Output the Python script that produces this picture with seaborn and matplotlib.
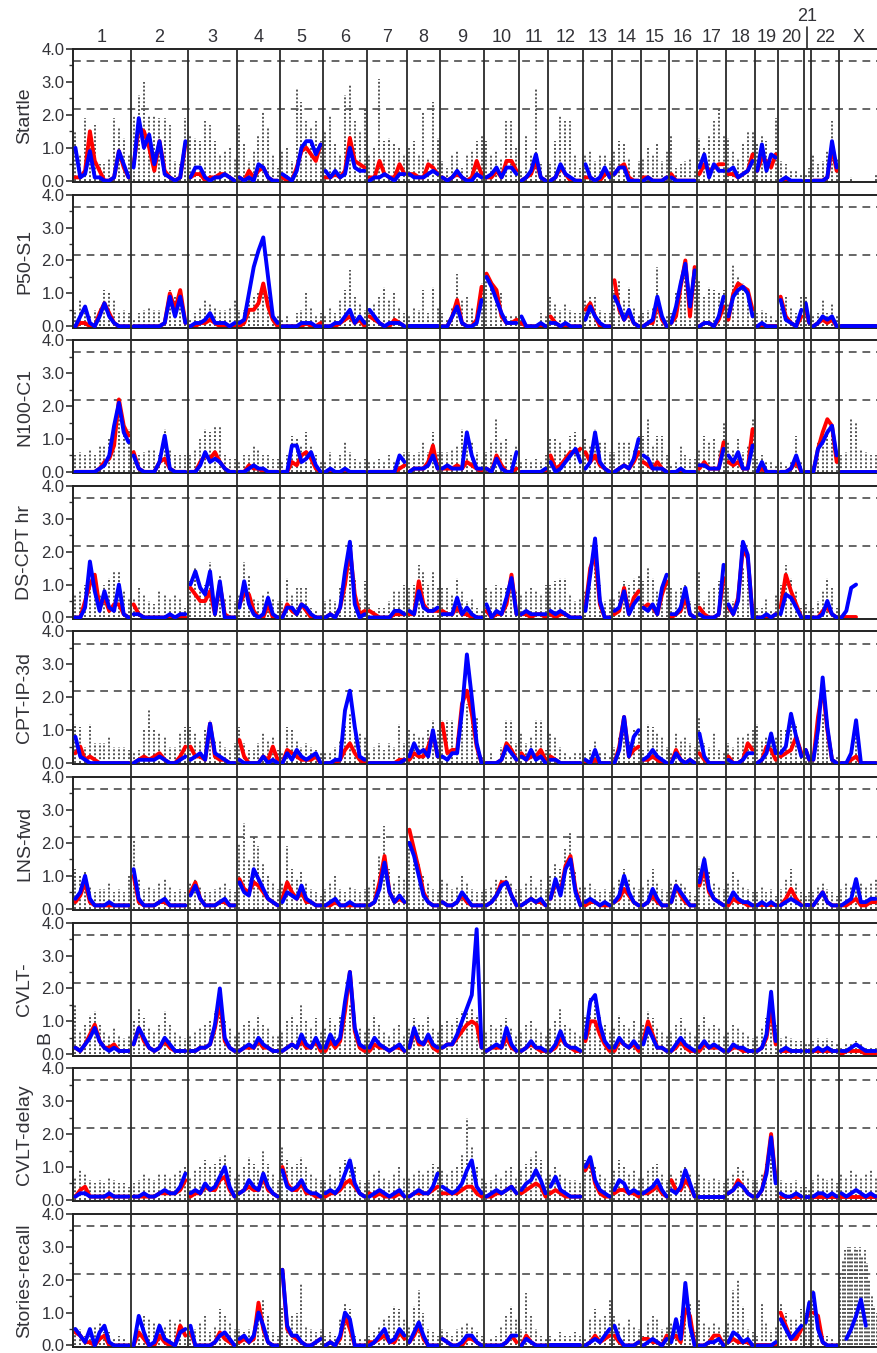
import numpy as np
import pandas as pd
import matplotlib
matplotlib.use('Agg')
import matplotlib.pyplot as plt
from matplotlib.ticker import MultipleLocator, FormatStrFormatter
from matplotlib.transforms import blended_transform_factory
import seaborn as sns

# chromosome map widths (map units) and names
chrom_names = [str(i) for i in range(1, 23)] + ["X"]
chrom_len = [58, 57, 49, 43, 43, 44, 40, 33, 44, 35, 29, 35, 29, 29, 28, 28, 29, 29, 23, 26, 7, 28, 39]
thresholds = [2.18, 3.63]

# LOD scores x10, one list per chromosome; None = no marker
startle_blue = [[10,1,2,9,1,1,0,0,1,9,5,1],[4,19,10,14,5,12,2,1,0,1,12],[1,4,4,1,0,1,1,2,1,0],[1,0,1,0,5,4,1,0,0],
    [2,1,0,3,10,12,12,8,11],[3,1,3,1,2,10,4,3,3],[0,1,1,2,1,0,2,2],[2,1,1,1,2,3,2],[1,0,1,3,1,0,0,2,1],[1,2,4,1,4,4,2],
    [0,1,3,8,1,0],[0,1,5,2,1,0,0],[5,1,0,1,4,1],[2,4,4,0,0,0],[0,1,0,0,0,1],[1,0,0,0,0,0],[4,8,1,5,3,3],[3,4,1,2,3,6],
    [3,11,3,8,7],[0,1,0,0,0],[0,0],[0,0,0,1,12,4],[]]
startle_red = [[1,1,3,15,6,3,0,0,1,9,4,1],[5,16,15,10,3,12,3,1,0,1,11],[1,2,2,0,1,1,2,2,1,0],[1,0,3,1,3,4,1,0,0],
    [1,0,0,4,9,10,8,6,11],[1,1,2,1,3,13,6,5,4],[1,1,6,2,1,1,5,2],[2,2,1,1,5,4,2],[1,0,1,2,1,0,1,6,2],[1,1,3,1,6,6,3],
    [0,1,2,6,1,0],[0,1,4,2,0,0,0],[1,1,0,0,2,2],[2,4,5,1,0,0],[1,1,0,0,0,1],[2,0,0,0,0,0],[2,5,3,4,5,5],[2,2,1,2,3,8],
    [3,7,6,4,8],[0,0,0,0,0],[0,0],[0,0,0,1,10,3],[]]
startle_gray = [[15,8,19,14,17,5,5,7,19,16,13,8],[20,26,30,20,20,19,19,17,6,5,19],[14,13,12,18,17,12,8,9,10,7],
    [17,11,6,9,14,21,16,8,4],[9,10,6,28,24,18,16,18,12],[15,20,11,8,26,29,18,15,22],[8,10,31,12,13,11,10,8],
    [10,12,8,21,7,24,13],[6,4,8,9,4,8,9,12,14],[12,8,9,7,18,18,10],[3,14,8,28,5,2],[5,12,20,18,18,8,4],[8,9,6,8,8,6],
    [9,12,11,7,3,6],[7,10,8,11,6,9],[14,4,5,6,7,3],[13,10,14,18,22,14],[13,9,7,11,15,15],[11,14,12,6,19],[6,5,3,3,2],
    [2,4],[8,5,6,9,18,7],[0,0,1,0,0,0,0,2]]

p50_blue = [[0,3,6,1,0,3,7,3,1,0,0,0],[0,0,0,0,0,0,1,9,3,9,1],[0,1,1,2,4,1,1,1,0,1],[1,2,10,18,23,27,15,3,1],
    [0,0,0,0,1,1,1,0,0],[0,0,1,1,3,5,1,3,1],[5,3,1,0,1,1,1,0],[0,0,0,0,0,0,0],[0,0,3,6,1,0,0,1,8],[15,12,8,4,1,1,1],
    [3,0,0,0,1,0],[1,1,0,1,0,0,0],[2,6,3,1,0,0],[9,6,2,5,1,0],[0,1,2,9,3,0],[1,6,13,19,6,17],[0,1,1,0,3,9],
    [3,9,11,12,10,3],[0,1,0,0,0],[8,2,1,0,5],[7,1],[0,1,3,2,3,0],[0,0,0,0,0,0,0,0]]
p50_red = [[0,1,1,0,0,4,7,4,1,0,0,0],[0,0,0,0,0,0,1,10,5,11,1],[0,0,1,1,2,1,0,0,0,0],[0,1,5,5,7,13,6,2,0],
    [0,0,0,0,0,1,0,0,1],[0,0,0,1,2,3,1,2,0],[3,2,1,0,0,2,1,0],[0,0,0,0,0,0,0],[0,0,3,8,1,0,0,2,12],[16,13,11,3,1,1,2],
    [1,0,0,0,0,0],[3,1,0,0,0,0,0],[5,7,3,0,0,0],[14,5,2,4,1,0],[0,1,1,7,2,0],[1,3,12,20,3,18],[0,1,1,0,2,6],
    [2,10,13,12,11,5],[0,0,0,0,0],[9,3,1,0,3],[5,1],[0,1,2,1,2,0],[0,0,0,0,0,0,0,0]]
p50_gray = [[5,8,5,3,5,6,11,10,8,4,5,4],[2,4,5,6,5,5,3,11,9,11,3],[2,4,6,8,7,6,5,5,6,8],[5,5,8,9,10,10,9,5,3],
    [2,3,1,4,5,10,6,3,4],[3,6,4,8,11,17,9,7,5],[6,7,9,12,8,10,6,4],[3,6,5,11,4,12,6],[4,2,6,16,8,9,6,3,13],
    [16,13,10,10,3,3,3],[3,1,1,1,4,3],[9,7,5,7,5,4,4],[8,9,9,5,4,4],[11,14,8,12,6,3],[4,5,6,18,4,3],
    [4,10,13,15,10,16],[14,9,12,11,10,11],[7,19,15,13,9,5],[4,5,4,3,2],[9,9,6,4,9],[9,3],[3,4,8,4,7,3],
    [0,0,0,0,0,0,0,0]]

n100_blue = [[0,0,0,0,0,1,2,5,14,21,12,9],[5,1,0,0,0,3,11,1,0,0,0],[0,0,2,6,3,4,3,1,0,0],[0,0,1,2,1,1,0,0,0],
    [0,0,8,8,3,4,6,2,0],[0,1,0,0,1,0,0,0,0],[0,0,0,0,0,0,5,3],[0,1,1,1,2,5,1],[1,2,1,1,1,12,5,1,1],[1,0,4,1,0,0,6],
    [0,0,0,0,0,1],[3,0,1,3,5,7,3],[1,3,12,3,1,0],[0,1,2,1,4,10],[5,4,1,1,1,0],[0,0,1,0,0,0],[2,2,1,1,1,7],
    [5,3,6,1,1,8],[0,3,0,0,0],[0,0,1,5,0],[0,0],[0,7,9,12,14,5],[0,0,0,0,0,0,0,0]]
n100_red = [[0,0,0,0,0,1,3,4,8,22,14,11],[6,1,0,0,0,3,4,1,0,0,0],[0,0,3,5,4,6,3,1,0,0],[0,0,2,1,1,0,0,0,0],
    [0,0,3,2,5,6,4,1,0],[0,0,0,0,0,0,0,0,0],[0,0,0,0,0,0,1,2],[0,1,1,1,3,8,1],[1,1,1,2,1,3,2,1,0],[1,0,5,2,0,0,1],
    [0,0,0,0,0,0],[5,1,2,4,6,6,7],[6,3,5,2,1,0],[0,1,2,1,3,6],[3,2,1,3,1,0],[0,0,0,0,0,0],[1,3,1,1,1,9],
    [3,2,3,1,1,13],[0,1,0,0,0],[0,0,1,3,0],[0,0],[0,7,12,16,14,3],[0,0,0,0,0,0,0,0]]
n100_gray = [[5,6,5,7,5,8,8,10,15,18,14,13],[7,5,6,7,7,5,13,7,5,5,5],[5,7,10,13,12,14,14,5,4,4],[3,5,5,8,7,5,5,4,4],
    [3,5,11,10,8,12,8,5,3],[3,6,3,5,9,6,4,3,4],[3,3,4,3,5,3,5,6],[6,5,6,9,6,12,6],[6,6,7,8,13,10,9,6,3],
    [6,9,16,9,10,5,8],[3,4,3,4,3,5],[10,10,9,7,11,12,8],[10,8,13,9,9,6],[6,9,9,9,7,11],[11,16,8,11,11,5],
    [2,3,8,5,4,4],[7,11,9,10,7,15],[9,7,10,6,8,16],[4,5,3,3,2],[3,2,3,11,3],[1,1],[2,9,11,13,12,5],
    [5,6,16,15,7,6,5,5]]

ds_blue = [[0,0,3,17,8,2,8,3,2,10,1,0],[1,1,0,0,0,0,0,1,0,1,1],[10,14,9,7,14,1,11,0,0,0],[3,11,4,1,0,1,6,1,0],
    [0,3,3,1,4,3,1,0,0],[0,1,0,3,14,23,4,0,1],[0,0,0,0,0,2,2,1],[2,1,8,3,2,2,3],[1,1,1,6,1,3,1,0,0],[4,0,2,1,6,12,1],
    [1,2,1,1,1,1],[2,1,2,1,0,0,0],[2,13,24,5,0,0],[2,3,8,1,4,6],[3,2,4,1,9,13],[1,1,3,9,1,0],[1,0,0,0,1,16],
    [4,1,5,23,19,0],[0,0,1,0,1],[1,7,6,3,0],[0,0],[0,0,1,5,1,0],[0,2,9,10,None,None,None,None]]
ds_red = [[0,0,5,10,13,3,6,2,4,4,1,0],[4,1,0,0,0,0,0,0,0,0,0],[9,7,5,5,8,1,10,1,0,0],[4,7,7,2,0,0,4,0,0],
    [0,4,2,1,4,2,0,0,0],[0,1,0,3,10,21,7,1,2],[2,1,0,0,0,1,1,1],[1,1,11,4,2,2,2],[2,1,1,3,1,1,0,0,0],[2,0,1,1,4,13,1],
    [1,1,0,1,1,0],[1,0,1,1,0,0,0],[3,15,19,4,0,0],[1,2,9,1,6,8],[3,4,3,1,7,11],[0,1,2,6,1,0],[3,1,0,0,1,12],
    [3,1,6,21,18,1],[0,0,0,0,1],[3,13,8,4,0],[0,0],[0,0,2,3,1,0],[0,0,0,0,None,None,None,None]]
ds_gray = [[7,8,10,11,9,7,10,12,14,14,8,6],[6,9,7,5,4,8,7,6,7,6,3],[11,15,9,10,17,5,13,6,7,5],[7,17,13,6,5,7,8,6,5],
    [5,12,7,9,9,9,3,2,1],[5,6,5,9,14,18,12,6,11],[4,2,3,3,5,8,8,10],[9,10,16,14,10,14,9],[9,9,7,12,8,5,6,3,2],
    [9,8,10,9,9,13,8],[7,8,9,8,7,10],[10,11,12,12,7,5,6],[8,12,16,10,5,6],[6,8,11,10,12,13],[11,15,12,8,9,12],
    [9,8,9,10,5,4],[14,5,8,9,11,12],[9,5,9,15,16,4],[3,3,6,2,7],[10,16,12,8,3],[4,2],[3,5,8,12,9,3],
    [0,0,0,0,0,0,0,0]]

cpt_blue = [[8,2,1,0,0,0,0,0,0,0,0,0],[0,1,1,1,1,2,1,0,0,1,2],[1,2,3,1,12,3,2,1,0,0],[1,0,0,0,0,2,0,1,0],
    [0,3,1,4,2,1,2,3,0],[0,0,1,1,16,22,11,2,1],[0,0,0,0,0,0,0,1],[2,6,3,4,2,10,2],[2,1,3,3,16,33,20,6,0],
    [0,0,0,1,5,3,1],[2,1,4,1,2,0],[1,1,0,0,0,0,0],[1,0,4,0,0,0],[0,4,14,2,8,10],[1,2,4,2,1,0],[0,3,1,0,1,0],
    [9,2,0,0,0,0],[1,0,0,1,3,3],[0,1,3,9,3],[3,5,15,8,2],[4,1],[1,10,26,11,1,0],[0,0,3,13,0,0,0,0]]
cpt_red = [[3,5,1,2,1,0,0,0,0,0,0,0],[0,1,2,1,2,3,1,0,0,2,5],[5,2,2,1,12,2,1,1,0,0],[7,2,0,0,0,2,1,5,1],
    [0,4,3,2,1,1,1,2,0],[0,0,0,1,4,6,3,1,0],[0,0,0,0,0,0,1,1],[1,3,2,2,5,9,2],[12,3,4,4,18,22,15,5,0],
    [0,0,0,1,6,4,1],[3,1,2,2,4,1],[2,1,0,0,0,0,0],[0,0,1,0,0,0],[0,5,14,2,4,5],[1,1,2,1,0,0],[0,4,1,0,1,0],
    [3,1,0,0,0,0],[2,0,0,1,6,4],[0,1,5,4,1],[2,3,4,8,3],[4,1],[1,14,23,10,1,0],[0,0,1,2,0,0,0,0]]
cpt_gray = [[12,11,5,12,6,6,6,8,5,5,5,4],[3,4,10,16,10,9,8,5,5,9,11],[11,9,7,10,13,7,7,5,4,6],[11,6,4,4,6,9,7,8,4],
    [3,11,10,7,5,6,5,4,3],[3,3,5,7,12,15,11,9,8],[3,5,6,4,6,5,12,6],[10,9,8,8,10,13,10],[13,13,13,8,15,18,16,14,2],
    [1,3,1,5,13,13,6],[9,6,8,13,13,4],[9,8,5,3,2,3,3],[3,4,7,3,3,2],[5,8,12,7,10,10],[4,12,11,9,8,5],
    [3,9,7,8,6,5],[14,6,5,9,4,3],[6,5,8,8,9,10],[12,7,8,9,8],[10,10,12,12,5],[3,2],[3,13,15,15,4,2],
    [1,1,3,8,1,1,1,1]]

lns_blue = [[3,5,10,3,1,1,1,2,1,1,1,1],[12,3,1,1,1,2,3,1,1,1,1],[4,7,3,1,1,1,2,3,1,1],[8,5,4,12,9,6,3,2,1],
    [2,5,4,3,7,3,2,1,1],[1,2,3,1,1,2,1,1,1],[1,2,6,14,5,2,4,2],[20,16,10,4,2,1,1],[2,1,1,2,5,3,1,1,1],
    [1,2,4,7,8,4,1],[1,2,3,2,3,1],[3,9,4,12,15,5,1],[2,3,2,1,2,1],[2,4,10,5,2,1],[1,2,6,3,1,1],[2,7,5,3,1,1],
    [8,15,6,3,2,1],[2,5,3,2,2,1],[1,2,1,2,1],[1,2,3,2,1],[1,1],[1,3,5,2,1,1],[1,2,3,9,2,2,3,3]]
lns_red = [[2,4,8,2,1,1,1,1,1,1,1,1],[10,2,1,1,1,2,2,1,1,1,1],[5,8,3,1,1,1,2,2,1,1],[9,6,5,8,7,5,3,2,1],
    [3,8,5,3,5,2,2,1,1],[1,1,2,1,1,1,1,1,1],[1,2,8,16,5,2,3,2],[24,18,12,5,2,1,1],[2,1,1,2,4,2,1,1,1],
    [1,2,4,8,8,4,1],[1,2,3,2,2,1],[3,8,5,13,16,6,1],[1,2,2,1,1,1],[2,3,6,4,2,1],[1,2,4,2,1,1],[2,7,4,2,1,1],
    [7,12,5,3,2,1],[1,3,2,2,1,1],[1,1,1,1,1],[1,3,6,3,1],[1,1],[1,3,5,2,1,1],[1,1,2,3,1,1,2,2]]
lns_gray = [[12,10,11,7,5,6,6,8,5,6,5,10],[21,9,6,7,6,8,9,7,5,6,5],[8,9,7,5,5,6,7,8,6,5],[20,26,15,22,19,14,10,8,6],
    [8,19,12,9,11,8,6,5,4],[6,8,10,6,5,7,6,5,6],[7,9,16,25,12,8,10,9],[21,18,14,10,8,6,5],[9,8,6,7,10,8,6,5,5],
    [6,7,9,9,10,8,6],[6,8,10,7,9,6],[10,14,12,18,23,11,7],[7,8,6,5,6,5],[7,9,12,9,7,6],[7,9,12,8,6,5],
    [8,9,8,7,5,4],[13,16,11,8,7,6],[8,11,9,7,6,5],[5,7,5,6,4],[6,9,12,8,5],[4,5],[5,7,8,6,5,4],[6,8,7,9,8,7,8,9]]

cvltb_blue = [[2,1,3,5,8,4,2,1,2,1,1,1],[3,8,5,2,1,2,5,3,1,1,1],[1,1,2,2,3,9,20,5,2,1],[1,2,3,2,5,3,2,1,1],
    [1,2,3,2,6,3,2,5,2],[2,6,3,5,16,25,8,3,2],[2,5,3,2,1,2,3,1],[2,8,4,3,6,3,2],[2,3,3,6,10,14,18,38,2],
    [1,2,3,2,8,3,1],[1,2,4,2,2,1],[1,3,7,3,2,2,1],[5,16,18,9,4,2],[2,5,3,2,4,2],[3,8,5,2,2,1],[1,3,5,3,2,1],
    [2,4,2,3,2,1],[1,3,2,2,1,1],[1,2,6,19,4],[1,2,1,1,1],[1,1],[1,2,1,2,1,1],[1,1,2,3,2,1,1,1]]
cvltb_red = [[2,1,3,6,9,4,2,2,3,1,1,1],[3,8,4,2,1,2,4,2,1,1,1],[1,1,2,2,3,8,16,4,2,1],[1,2,2,2,4,2,2,1,1],
    [1,2,3,2,4,2,2,4,1],[1,4,2,4,13,25,7,2,1],[1,3,2,2,1,2,2,1],[2,7,3,3,5,2,1],[2,3,3,5,7,9,10,9,2],
    [1,2,2,2,5,2,1],[1,2,3,2,1,1],[1,2,5,3,2,1,1],[4,10,10,6,3,1],[1,4,3,2,3,1],[4,10,6,2,2,1],[1,2,4,2,1,1],
    [1,3,2,2,2,1],[1,2,2,1,1,1],[1,2,5,14,3],[1,1,1,1,1],[1,1],[1,1,1,1,1,1],[0,1,1,1,1,0,0,0]]
cvltb_gray = [[15,7,9,12,13,9,7,6,8,6,5,6],[10,14,11,8,7,9,13,9,7,6,5],[6,7,8,9,10,13,13,10,8,6],[7,9,10,8,12,9,8,6,6],
    [7,10,12,9,15,10,8,11,7],[8,11,9,12,15,15,12,8,7],[8,12,9,7,6,8,9,6],[8,11,9,9,12,8,7],[9,10,9,11,13,15,14,12,6],
    [7,9,8,9,11,8,6],[7,9,10,8,7,6],[8,10,14,9,8,7,6],[12,17,16,12,9,7],[8,12,9,8,10,7],[9,13,11,8,7,6],
    [7,9,11,8,7,6],[9,12,8,9,8,6],[7,9,8,7,6,5],[6,8,11,13,9],[5,6,5,4,4],[3,3],[4,5,4,5,4,3],[2,3,3,4,3,2,2,2]]

cvltd_blue = [[1,2,2,1,1,1,1,2,1,1,1,1],[1,1,2,1,1,2,3,2,2,4,8],[2,3,2,5,3,4,7,10,4,1],[2,3,6,4,3,8,4,2,1],
    [9,4,3,4,6,3,2,2,1],[2,3,2,4,8,12,5,2,1],[1,2,3,2,1,2,3,1],[1,2,3,2,2,4,8],[4,3,2,3,5,9,12,4,2],
    [1,2,3,2,3,4,2],[3,5,6,9,6,2],[4,7,3,2,1,1,1],[10,13,6,3,2,1],[3,6,5,2,3,2],[2,3,4,6,3,1],[3,2,4,9,5,1],
    [1,1,1,1,1,1],[2,3,5,4,2,1],[1,3,8,19,5],[2,1,1,2,1],[1,1],[1,2,2,1,2,1],[2,1,2,3,2,1,2,1]]
cvltd_red = [[1,3,4,1,1,1,1,1,1,1,1,1],[1,1,1,1,1,2,2,2,2,3,6],[1,2,2,4,3,3,6,7,3,1],[2,3,4,3,3,7,3,2,1],
    [10,5,3,3,5,2,2,1,1],[1,2,2,3,5,6,4,2,1],[2,1,2,1,1,1,2,1],[1,2,2,2,2,3,4],[2,2,2,2,3,4,4,2,1],
    [1,1,2,2,3,4,2],[2,3,4,5,4,1],[2,3,2,1,1,1,1],[9,12,5,2,1,1],[2,3,3,2,2,1],[2,2,3,4,2,1],[6,3,3,6,4,1],
    [1,1,1,1,1,1],[2,3,6,4,2,1],[1,3,9,20,6],[1,1,1,1,1],[1,1],[1,1,1,1,1,1],[1,1,1,1,1,1,1,1]]
cvltd_gray = [[7,9,8,6,5,6,5,7,6,5,5,4],[5,6,8,7,6,8,8,7,8,9,10],[7,9,10,12,10,11,13,14,10,7],[8,10,13,11,9,15,11,8,6],
    [16,12,10,11,13,10,8,7,6],[6,8,7,10,12,13,10,6,5],[6,8,9,7,6,8,10,7],[7,8,9,8,9,11,10],[9,8,9,10,14,25,16,10,7],
    [5,6,8,7,9,10,7],[9,11,13,15,12,7],[8,10,8,7,6,6,5],[12,13,10,8,7,5],[9,12,10,8,9,7],[7,9,10,11,8,6],
    [8,7,9,10,8,5],[8,7,6,7,6,5],[7,8,10,9,7,6],[6,8,11,13,9],[6,5,5,6,4],[4,3],[6,8,7,6,7,5],[8,7,9,8,7,8,9,7]]

stories_blue = [[5,3,1,5,0,4,6,1,0,0,0,0],[0,9,4,0,1,6,2,1,0,4,5],[6,0,0,0,0,1,3,4,2,0],[2,3,1,3,10,6,1,0,0],
    [23,6,3,3,1,0,0,1,2],[0,1,0,3,10,8,0,0,0],[0,1,3,5,1,2,5,3],[1,4,7,3,0,0,0],[2,1,0,0,1,3,3,1,0],
    [0,0,0,0,1,3,3],[0,2,1,0,0,0],[0,0,0,0,0,0,0],[0,1,2,1,3,5],[6,2,0,0,0,1],[0,1,2,1,0,2],[1,8,2,19,6,0],
    [0,0,1,1,2,0],[1,4,3,1,2,0],[0,0,0,0,1],[8,5,2,4,6],[7,13],[16,5,1,0,0,0],[None,2,5,9,14,6,None,None]]
stories_red = [[4,3,1,1,0,2,3,0,0,0,0,0],[0,4,2,0,0,3,1,0,0,6,3],[4,0,0,0,0,1,4,2,1,0],[1,2,1,2,13,5,1,0,0],
    [23,5,3,2,1,0,0,1,2],[0,1,0,2,9,5,0,0,0],[1,1,2,3,1,1,4,2],[1,3,6,2,0,0,0],[2,1,0,0,0,2,2,1,0],
    [0,0,0,0,1,3,1],[0,3,1,0,0,0],[0,0,0,0,0,0,0],[0,1,3,1,2,3],[3,1,0,0,0,1],[2,2,1,1,0,3],[2,3,1,11,9,0],
    [0,0,1,3,3,0],[1,2,1,1,1,0],[0,0,0,0,0],[10,6,2,2,5],[8,10],[10,9,1,0,0,0],[]]
stories_gray = [[6,5,3,3,6,7,4,4,2,3,2,1],[2,5,9,8,7,7,6,8,7,8,5],[5,5,7,9,4,6,11,9,7,5],[5,4,5,5,10,14,9,4,3],
    [12,9,9,10,19,6,5,4,5],[3,4,3,8,13,11,3,2,2],[3,4,6,8,9,12,11,8],[6,12,17,10,5,4,3],[5,4,3,5,6,7,6,4,3],
    [1,2,3,6,9,12,8],[5,16,9,5,3,2],[3,2,4,3,3,4,3],[2,8,11,8,9,14],[9,7,6,8,6,5],[3,7,9,8,5,6],
    [7,8,9,11,13,4],[14,7,6,7,6,4],[7,17,20,12,5,4],[3,13,7,4,6],[13,10,8,8,11],[10,14],[17,8,3,3,2,1],
    [22,26,29,30,30,28,30,29,30,27,29,25,20,15,12,10]]

# trait label, wrapped remainder of the label (drawn low, beside the axis), series
panels = [
    ("Startle", "", startle_gray, startle_red, startle_blue),
    ("P50-S1", "", p50_gray, p50_red, p50_blue),
    ("N100-C1", "", n100_gray, n100_red, n100_blue),
    ("DS-CPT hr", "", ds_gray, ds_red, ds_blue),
    ("CPT-IP-3d", "", cpt_gray, cpt_red, cpt_blue),
    ("LNS-fwd", "", lns_gray, lns_red, lns_blue),
    ("CVLT-", "B", cvltb_gray, cvltb_red, cvltb_blue),
    ("CVLT-delay", "", cvltd_gray, cvltd_red, cvltd_blue),
    ("Stories-recall", "", stories_gray, stories_red, stories_blue),
]

starts = np.concatenate([[0], np.cumsum(chrom_len)[:-1]])
total = float(sum(chrom_len))


def to_frame(values):
    rows = []
    for c, vals in enumerate(values):
        n = len(vals)
        for j, v in enumerate(vals):
            if v is None:
                continue
            rows.append((chrom_names[c], starts[c] + (j + 0.5) * chrom_len[c] / n, v / 10.0))
    return pd.DataFrame(rows, columns=["chrom", "pos", "lod"])


sns.set_theme(style="white")
plt.rcParams['font.family'] = ['Liberation Sans', 'DejaVu Sans']
txt_col = "#333338"

W, H = 878, 1353
fig = plt.figure(figsize=(W / 100, H / 100), dpi=100)
left_px, width_px = 73, 805
top0, step, ph = 49, 145.6, 133

axes = []
for i, (name, wrap, gray, red, blue) in enumerate(panels):
    top = top0 + i * step
    ax = fig.add_axes([left_px / W, 1 - (top + ph) / H, width_px / W, ph / H])
    ax.set_facecolor("none")
    g = to_frame(gray)
    ax.vlines(g["pos"], 0, g["lod"], colors="#555555", linestyles=(0, (1, 1)), lw=1.4, zorder=1)
    r = to_frame(red)
    b = to_frame(blue)
    if len(r):
        sns.lineplot(data=r, x="pos", y="lod", units="chrom", estimator=None, sort=False,
                     color="#ff0000", lw=2.8, ax=ax, zorder=2)
    if len(b):
        sns.lineplot(data=b, x="pos", y="lod", units="chrom", estimator=None, sort=False,
                     color="#0000ff", lw=2.8, ax=ax, zorder=3)
    for t in thresholds:
        ax.axhline(t, color="#666666", lw=1.4, ls=(0, (4, 3)), zorder=0)
    ax.set_xlim(0, total)
    ax.set_ylim(-0.04, 4.0)
    ax.set_xticks([])
    ax.set_xlabel("")
    ax.yaxis.set_major_locator(MultipleLocator(1.0))
    ax.yaxis.set_minor_locator(MultipleLocator(0.5))
    ax.yaxis.set_major_formatter(FormatStrFormatter("%.1f"))
    ax.tick_params(axis="y", which="major", left=True, length=5, width=1.2, color="#333333",
                   labelsize=12, labelcolor=txt_col, pad=1)
    ax.tick_params(axis="y", which="minor", left=True, length=3, width=1.0, color="#333333")
    for s in ["top", "bottom", "left"]:
        ax.spines[s].set_color("#222222")
        ax.spines[s].set_linewidth(1.4)
    ax.spines["right"].set_visible(False)
    ax.set_ylabel(name, fontsize=14, color=txt_col)
    ax.yaxis.set_label_coords(-40 / width_px, 0.5)
    if wrap:
        # wrapped part of the label sits between the 0.0 and 1.0 tick labels
        tr = blended_transform_factory(ax.transAxes, ax.transData)
        ax.text(-28 / width_px, 0.5, wrap, rotation=90, ha="center", va="center",
                fontsize=14, color=txt_col, transform=tr, clip_on=False)
    axes.append(ax)

# chromosome boundaries run through all panels
bottom_px = top0 + 8 * step + ph
ax_bg = fig.add_axes([left_px / W, 1 - bottom_px / H, width_px / W, (bottom_px - top0) / H])
ax_bg.set_xlim(0, total)
ax_bg.set_ylim(0, 1)
ax_bg.axis("off")
ax_bg.set_zorder(10)
ax_bg.vlines(starts[1:], 0, 1, colors="#2a2a2a", lw=1.3)

# chromosome labels
top_ax = axes[0]
centers = starts + np.array(chrom_len) / 2.0
for c, name in enumerate(chrom_names):
    if name == "21":
        top_ax.text(centers[c], 1.245, name, ha="center", va="center", fontsize=13, color=txt_col,
                    transform=top_ax.get_xaxis_transform(), clip_on=False)
        top_ax.plot([centers[c], centers[c]], [1.0, 1.165], color="#2a2a2a", lw=1.2,
                    transform=top_ax.get_xaxis_transform(), clip_on=False)
    else:
        top_ax.text(centers[c], 1.085, name, ha="center", va="center", fontsize=13, color=txt_col,
                    transform=top_ax.get_xaxis_transform(), clip_on=False)

fig.savefig("out.png", dpi=100)
